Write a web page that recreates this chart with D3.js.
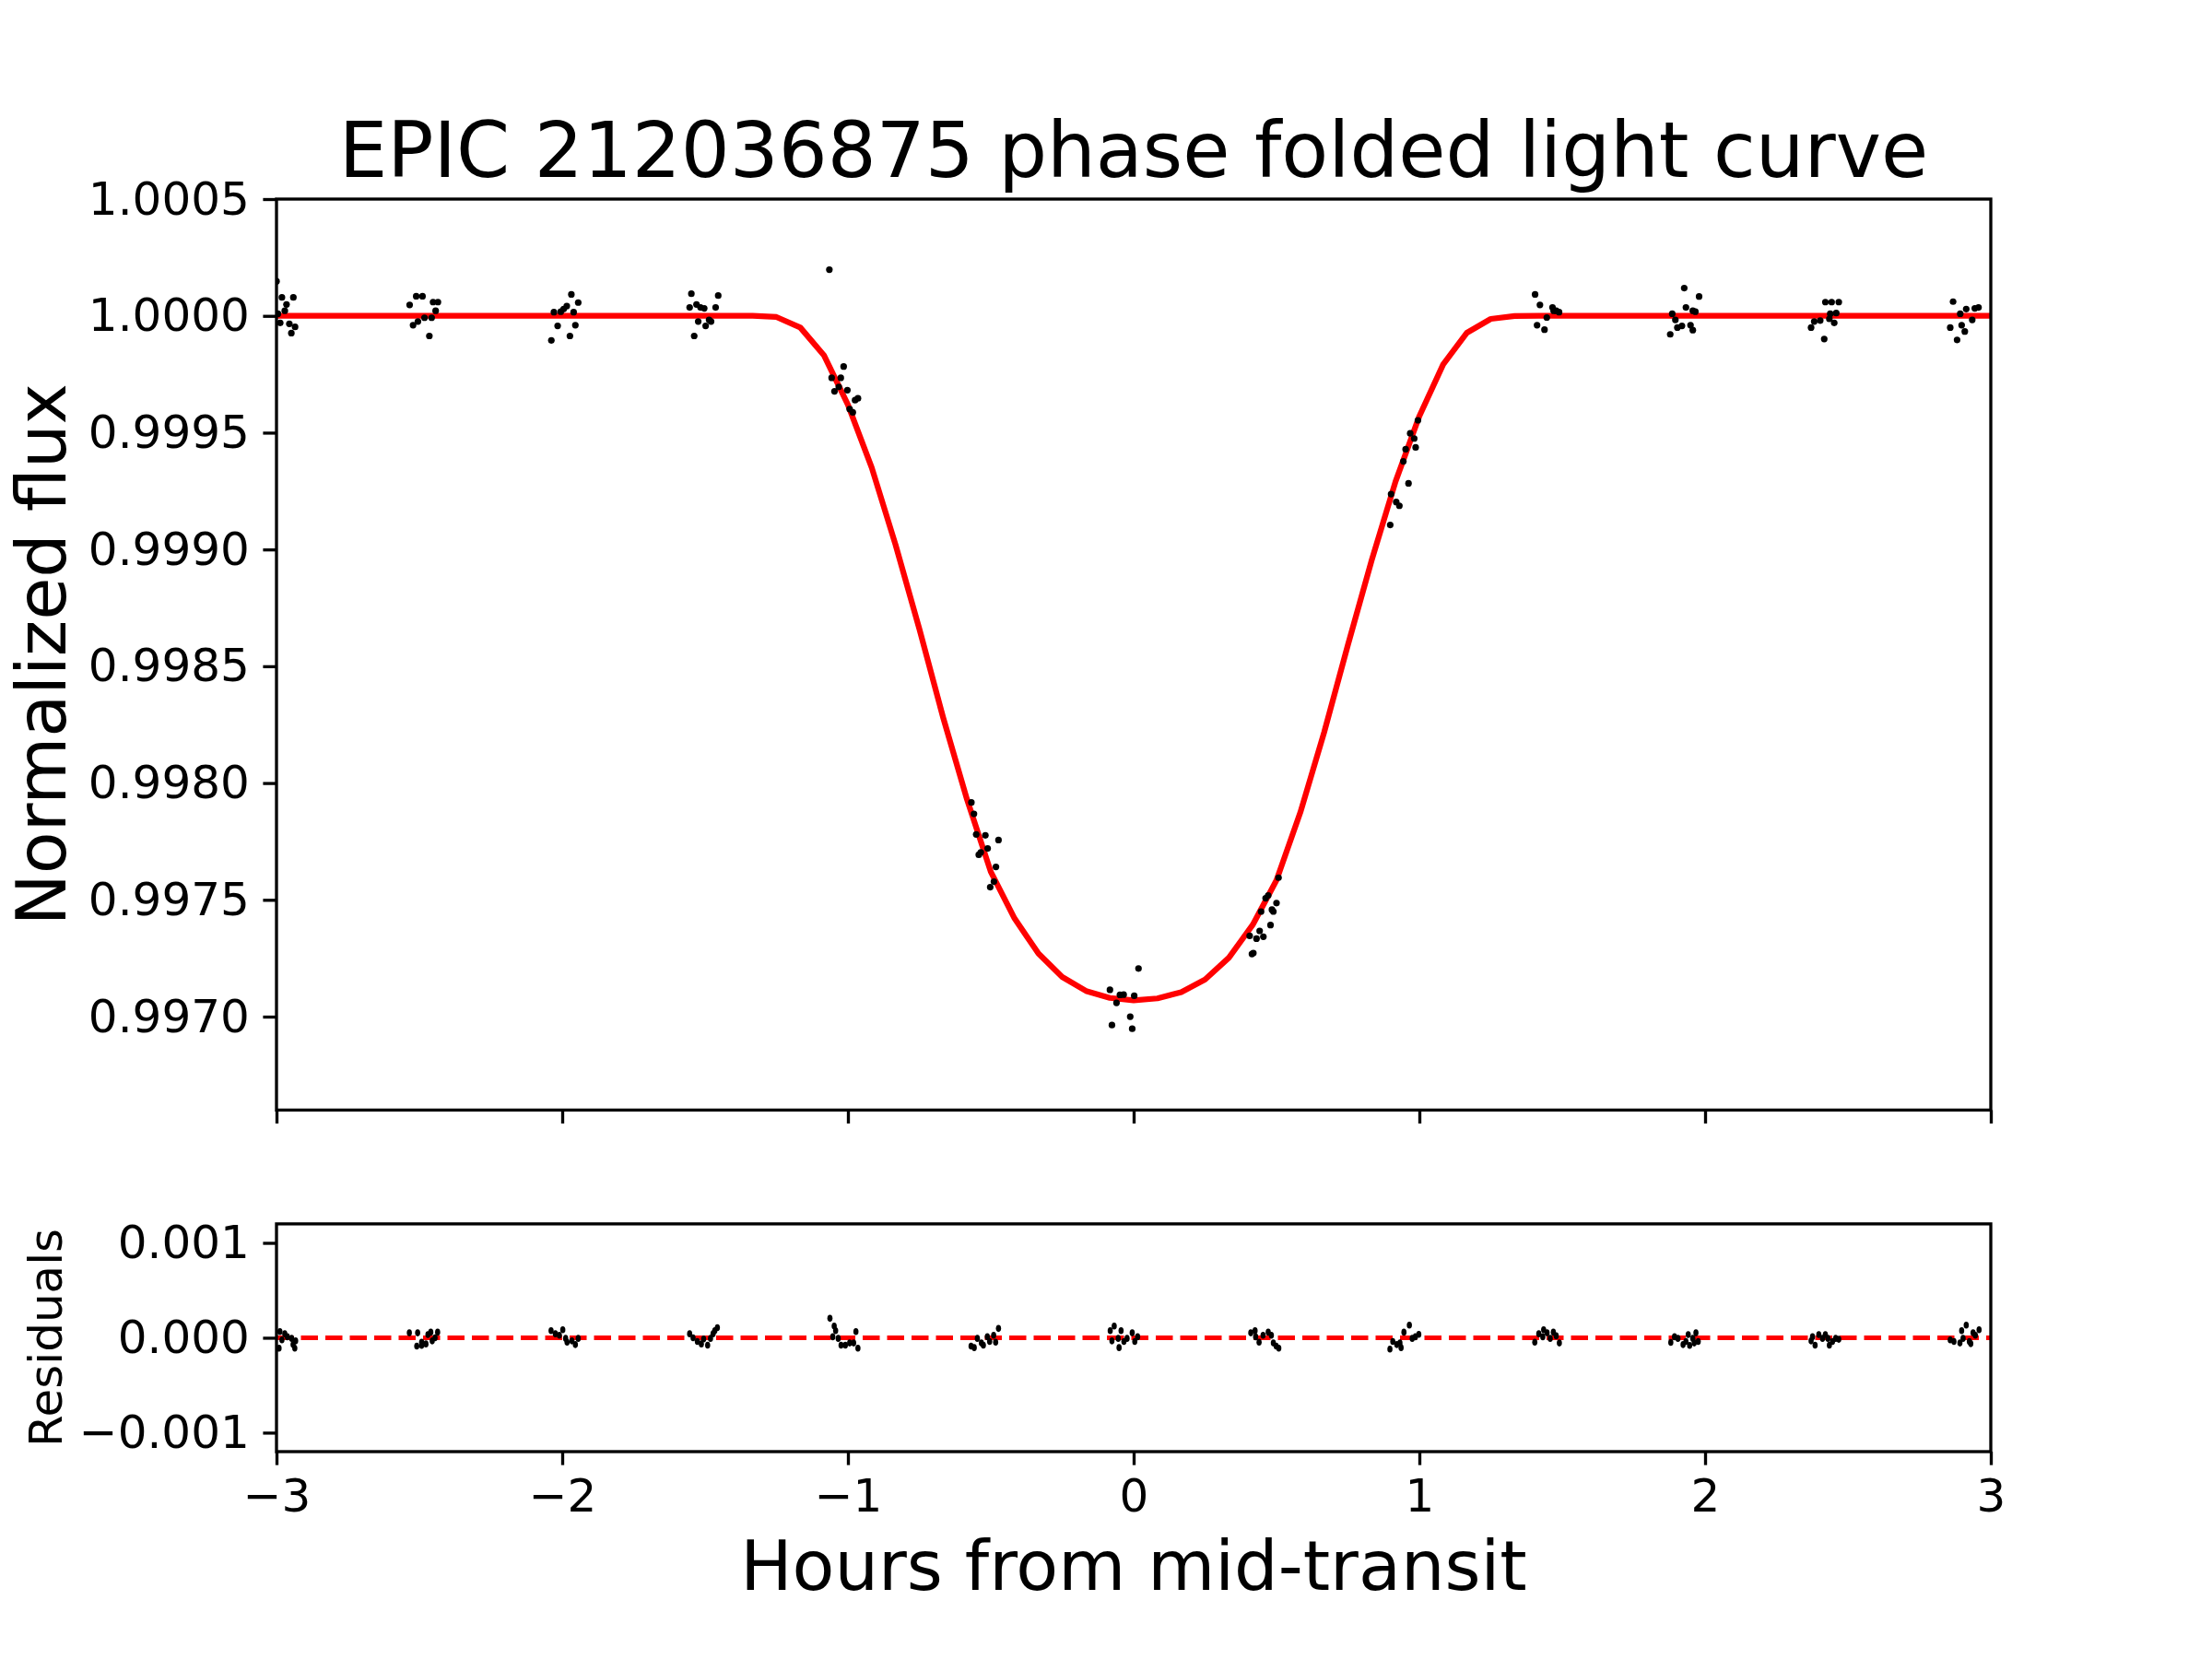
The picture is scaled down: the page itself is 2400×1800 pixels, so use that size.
<!DOCTYPE html>
<html><head><meta charset="utf-8">
<script src="https://cdn.jsdelivr.net/npm/d3@7"></script>
<style>body{margin:0;background:#fff} text{font-family:"DejaVu Sans",sans-serif}</style>
</head><body><svg id="c" width="2400" height="1800"></svg>
<script>
const titleText = "EPIC 212036875 phase folded light curve";
const xLabelText = "Hours from mid-transit";
const yLabelText = "Normalized flux";
const residLabelText = "Residuals";
const xTicks = [-3, -2, -1, 0, 1, 2, 3];
const yTicks = [0.9970, 0.9975, 0.9980, 0.9985, 0.9990, 0.9995, 1.0000, 1.0005];
const residTicks = [-0.001, 0.000, 0.001];
const xDomain = [-3, 3];
const yDomain = [0.9966, 1.0005];
const residDomain = [-0.0012, 0.0012];

const modelTime = [-3.0, -1.4167, -1.3333, -1.25, -1.1667, -1.0833, -1.0, -0.9167, -0.8333, -0.75, -0.6667, -0.5833, -0.5, -0.4167, -0.3333, -0.25, -0.1667, -0.0833, 0.0,
  0.0833, 0.1667, 0.25, 0.3333, 0.4167, 0.5, 0.5833, 0.6667, 0.75, 0.8333, 0.9167, 1.0, 1.0833, 1.1667, 1.25, 1.3333, 1.4167, 3.0];
const modelFlux = [1.0, 1.0, 1.0, 0.999995, 0.99995, 0.99983, 0.99962, 0.99935, 0.99902, 0.99866, 0.99828, 0.99793, 0.99762, 0.99742, 0.99727, 0.99717, 0.99711, 0.99708, 0.99707,
  0.997078, 0.997105, 0.997159, 0.997252, 0.997393, 0.997584, 0.997874, 0.998217, 0.998592, 0.998955, 0.999291, 0.999571, 0.999792, 0.999928, 0.999987, 0.999999, 1.0, 1.0];

const dataTime = [
  -3.000, -2.981, -2.941, -2.965, -2.971, -2.995, -2.987, -2.955, -2.935, -2.948,
  -2.511, -2.489, -2.534, -2.452, -2.435, -2.443, -2.457, -2.482, -2.505, -2.522, -2.465,
  -1.968, -1.944, -1.984, -1.995, -2.005, -2.029, -1.960, -2.016, -1.954, -1.973, -2.038,
  -1.548, -1.454, -1.530, -1.516, -1.503, -1.554, -1.463, -1.524, -1.479, -1.498, -1.538, -1.486,
  -1.065, -1.015, -1.057, -1.025, -1.032, -1.002, -1.047, -0.965, -0.975, -0.994, -0.983,
  -0.568, -0.559, -0.551, -0.519, -0.473, -0.511, -0.535, -0.542, -0.482, -0.489, -0.502,
  0.017, -0.083, -0.035, -0.048, 0.002, -0.060, -0.012, -0.076, -0.005,
  0.507, 0.471, 0.462, 0.500, 0.446, 0.484, 0.489, 0.479, 0.454, 0.441, 0.406, 0.430, 0.419, 0.414,
  0.995, 0.968, 0.982, 0.987, 0.952, 0.944, 0.962, 0.901, 0.919, 0.930, 0.898,
  1.405, 1.422, 1.466, 1.479, 1.489, 1.470, 1.446, 1.412, 1.438,
  1.927, 1.979, 1.933, 1.957, 1.966, 1.885, 1.896, 1.919, 1.903, 1.949, 1.957, 1.878,
  2.421, 2.443, 2.468, 2.459, 2.438, 2.452, 2.435, 2.403, 2.382, 2.371, 2.417,
  2.868, 2.957, 2.944, 2.914, 2.893, 2.935, 2.858, 2.898, 2.909, 2.882
];
const dataFlux = [
  1.000148, 1.000079, 1.000079, 1.000049, 1.000022, 1.000009, 0.999970, 0.999966, 0.999953, 0.999926,
  1.000084, 1.000084, 1.000047, 1.000059, 1.000059, 1.000022, 0.999992, 0.999992, 0.999976, 0.999960, 0.999914,
  1.000092, 1.000057, 1.000042, 1.000029, 1.000018, 1.000016, 1.000016, 0.999957, 0.999960, 0.999914, 0.999895,
  1.000095, 1.000087, 1.000049, 1.000036, 1.000032, 1.000036, 1.000036, 0.999976, 0.999976, 0.999957, 0.999914, 0.999983,
  1.000198, 0.999783, 0.999735, 0.999735, 0.999696, 0.999682, 0.999677, 0.999647, 0.999639, 0.999601, 0.999587,
  0.997917, 0.997868, 0.997780, 0.997776, 0.997756, 0.997720, 0.997703, 0.997693, 0.997641, 0.997578, 0.997554,
  0.997206, 0.997115, 0.997094, 0.997093, 0.997089, 0.997059, 0.997000, 0.996964, 0.996948,
  0.997595, 0.997519, 0.997507, 0.997486, 0.997450, 0.997458, 0.997450, 0.997392, 0.997342, 0.997367, 0.997346, 0.997334, 0.997272, 0.997268,
  0.999553, 0.999497, 0.999475, 0.999437, 0.999429, 0.999377, 0.999283, 0.999237, 0.999203, 0.999187, 0.999105,
  1.000092, 1.000047, 1.000036, 1.000022, 1.000016, 1.000022, 0.999993, 0.999960, 0.999941,
  1.000119, 1.000083, 1.000036, 1.000022, 1.000018, 1.000009, 0.999983, 0.999957, 0.999950, 0.999960, 0.999939, 0.999921,
  1.000059, 1.000059, 1.000059, 1.000012, 1.000009, 0.999970, 0.999987, 0.999980, 0.999976, 0.999950, 0.999901,
  1.000061, 1.000036, 1.000032, 1.000029, 1.000009, 0.999983, 0.999950, 0.999960, 0.999933, 0.999897
];

const residTime = [
  -2.988, -2.971, -2.962, -2.981, -2.947, -2.933, -2.942, -2.936, -2.991,
  -2.535, -2.506, -2.460, -2.436, -2.470, -2.492, -2.477, -2.509, -2.492, -2.455, -2.445,
  -2.039, -1.998, -2.024, -2.010, -1.988, -1.983, -1.966, -1.954, -1.944,
  -1.554, -1.542, -1.527, -1.513, -1.491, -1.505, -1.481, -1.472, -1.457, -1.466,
  -1.063, -1.048, -1.043, -1.053, -1.034, -1.024, -1.009, -0.994, -0.980, -0.972, -0.965,
  -0.569, -0.558, -0.547, -0.533, -0.526, -0.512, -0.490, -0.483, -0.473, -0.504,
  -0.082, -0.068, -0.044, -0.076, -0.054, -0.051, -0.034, -0.023, -0.005, 0.004, 0.014,
  0.410, 0.425, 0.427, 0.439, 0.453, 0.471, 0.482, 0.489, 0.499, 0.508,
  0.897, 0.907, 0.921, 0.932, 0.936, 0.946, 0.965, 0.975, 0.986, 0.998,
  1.404, 1.418, 1.435, 1.447, 1.458, 1.469, 1.479, 1.490, 1.432,
  1.880, 1.893, 1.905, 1.923, 1.933, 1.941, 1.946, 1.957, 1.968, 1.976, 1.962,
  2.371, 2.376, 2.385, 2.398, 2.411, 2.421, 2.430, 2.435, 2.446, 2.457, 2.468,
  2.858, 2.871, 2.892, 2.898, 2.914, 2.925, 2.930, 2.938, 2.946, 2.959, 2.903
];
const residValue = [
  0.000065, 0.000042, 0.000010, -0.000023, -0.000007, -0.000033, -0.000072, -0.000110, -0.000110,
  0.000052, 0.000052, 0.000059, 0.000059, 0.000033, -0.000046, -0.000065, -0.000088, -0.000081, -0.000033, 0.000000,
  0.000075, 0.000085, 0.000042, 0.000026, -0.000007, -0.000046, -0.000033, -0.000072, -0.000007,
  0.000042, 0.000000, -0.000039, -0.000065, -0.000078, -0.000013, -0.000007, 0.000042, 0.000107, 0.000075,
  0.000205, 0.000124, 0.000075, 0.000010, -0.000007, -0.000078, -0.000078, -0.000055, -0.000055, 0.000065, -0.000110,
  -0.000088, -0.000104, -0.000007, -0.000055, -0.000078, 0.000010, 0.000026, -0.000046, 0.000098, -0.000039,
  0.000075, 0.000124, 0.000075, -0.000033, -0.000007, -0.000104, -0.000039, -0.000007, 0.000052, -0.000039, 0.000010,
  0.000052, 0.000075, 0.000010, -0.000046, 0.000026, 0.000059, 0.000026, -0.000055, -0.000088, -0.000110,
  -0.000120, -0.000039, -0.000072, -0.000055, -0.000104, 0.000059, 0.000133, -0.000007, 0.000010, 0.000036,
  -0.000046, 0.000042, 0.000085, 0.000052, -0.000007, 0.000059, 0.000020, -0.000055, 0.000010,
  -0.000049, 0.000010, -0.000007, -0.000072, -0.000039, 0.000033, -0.000081, -0.000007, 0.000052, -0.000039, -0.000055,
  -0.000033, 0.000010, -0.000078, 0.000033, -0.000007, 0.000033, -0.000007, -0.000078, -0.000039, -0.000007, -0.000016,
  -0.000023, -0.000039, -0.000055, 0.000075, 0.000133, -0.000039, -0.000062, 0.000052, 0.000026, 0.000085, -0.000007
];
const zeroLineTime = [-3, 3];
const zeroLineValue = [0, 0];

// ---- layout ----
const W = 2400, H = 1800;
const L = 300, R = 2160;
const mainTop = 216, mainBot = 1204.4;
const resTop = 1327.9, resBot = 1575;
const tickLen = 14.6, tickPad = 14.6, tickW = 3.33, spineW = 3.33;
const tickFont = 50;

const svg = d3.select("#c");
svg.append("rect").attr("width", W).attr("height", H).attr("fill", "#fff");

const x = d3.scaleLinear().domain(xDomain).range([L, R]);
const y = d3.scaleLinear().domain(yDomain).range([mainBot, mainTop]);
const yr = d3.scaleLinear().domain(residDomain).range([resBot, resTop]);

const defs = svg.append("defs");
defs.append("clipPath").attr("id", "clipMain").append("rect")
  .attr("x", L).attr("y", mainTop).attr("width", R - L).attr("height", mainBot - mainTop);
defs.append("clipPath").attr("id", "clipRes").append("rect")
  .attr("x", L).attr("y", resTop).attr("width", R - L).attr("height", resBot - resTop);

function styleAxis(g) {
  g.select(".domain").remove();
  g.selectAll(".tick line").attr("stroke", "#000").attr("stroke-width", tickW);
  g.selectAll(".tick text").attr("font-size", tickFont).attr("fill", "#000")
    .attr("font-family", "DejaVu Sans");
}

// ---- main panel ----
const mainG = svg.append("g");
const modelPts = modelTime.map((t, i) => [t, modelFlux[i]]);
mainG.append("path").attr("clip-path", "url(#clipMain)")
  .datum(modelPts)
  .attr("d", d3.line().x(d => x(d[0])).y(d => y(d[1])))
  .attr("fill", "none").attr("stroke", "#ff0000").attr("stroke-width", 6.25)
  .attr("stroke-linejoin", "round").attr("stroke-linecap", "butt");

mainG.append("g").attr("clip-path", "url(#clipMain)")
  .selectAll("circle").data(dataTime.map((t, i) => [t, dataFlux[i]]))
  .join("circle")
  .attr("cx", d => x(d[0])).attr("cy", d => y(d[1])).attr("r", 3.6).attr("fill", "#000");

const yAxis = d3.axisLeft(y).tickValues(yTicks).tickFormat(d3.format(".4f"))
  .tickSize(tickLen).tickPadding(tickPad);
mainG.append("g").attr("transform", `translate(${L},0)`).call(yAxis).call(styleAxis);
const xAxisMain = d3.axisBottom(x).tickValues(xTicks).tickFormat("").tickSize(tickLen);
mainG.append("g").attr("transform", `translate(0,${mainBot})`).call(xAxisMain).call(styleAxis);

mainG.append("rect").attr("x", L).attr("y", mainTop).attr("width", R - L).attr("height", mainBot - mainTop)
  .attr("fill", "none").attr("stroke", "#000").attr("stroke-width", spineW);

// ---- residual panel ----
const resG = svg.append("g");
resG.append("path").attr("clip-path", "url(#clipRes)")
  .datum(zeroLineTime.map((t, i) => [t, zeroLineValue[i]]))
  .attr("d", d3.line().x(d => x(d[0])).y(d => yr(d[1])))
  .attr("fill", "none").attr("stroke", "#ff0000").attr("stroke-width", 5)
  .attr("stroke-dasharray", "18.5,8");

resG.append("g").attr("clip-path", "url(#clipRes)")
  .selectAll("ellipse").data(residTime.map((t, i) => [t, residValue[i]]))
  .join("ellipse")
  .attr("cx", d => x(d[0])).attr("cy", d => yr(d[1])).attr("rx", 2.8).attr("ry", 3.8).attr("fill", "#000");

const yrAxis = d3.axisLeft(yr).tickValues(residTicks).tickFormat(d3.format(".3f"))
  .tickSize(tickLen).tickPadding(tickPad);
resG.append("g").attr("transform", `translate(${L},0)`).call(yrAxis).call(styleAxis);
const xAxis = d3.axisBottom(x).tickValues(xTicks).tickFormat(d3.format("d"))
  .tickSize(tickLen).tickPadding(tickPad);
resG.append("g").attr("transform", `translate(0,${resBot})`).call(xAxis).call(styleAxis);

resG.append("rect").attr("x", L).attr("y", resTop).attr("width", R - L).attr("height", resBot - resTop)
  .attr("fill", "none").attr("stroke", "#000").attr("stroke-width", spineW);

// ---- labels ----
svg.append("text").attr("x", (L + R) / 2).attr("y", 192).attr("text-anchor", "middle")
  .attr("font-size", 83.3).attr("fill", "#000").text(titleText);
svg.append("text").attr("x", (L + R) / 2).attr("y", 1725).attr("text-anchor", "middle")
  .attr("font-size", 75).attr("fill", "#000").text(xLabelText);
svg.append("text").attr("transform", `translate(71,${(mainTop + mainBot) / 2}) rotate(-90)`)
  .attr("text-anchor", "middle").attr("font-size", 75).attr("fill", "#000").text(yLabelText);
svg.append("text").attr("transform", `translate(67,${(resTop + resBot) / 2}) rotate(-90)`)
  .attr("text-anchor", "middle").attr("font-size", 50).attr("fill", "#000").text(residLabelText);
</script></body></html>
